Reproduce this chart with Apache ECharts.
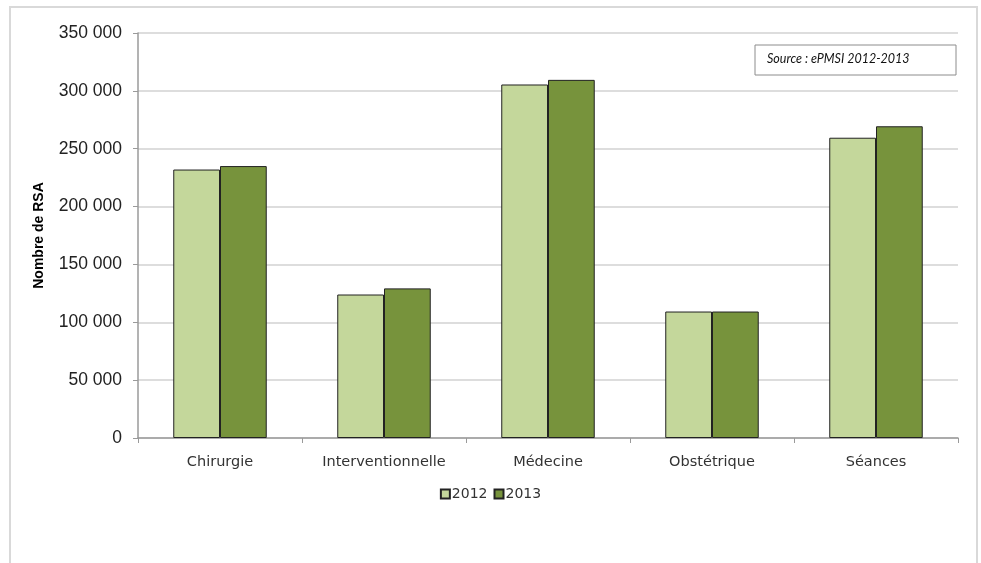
<!DOCTYPE html>
<html><head><meta charset="utf-8">
<script src="https://cdn.jsdelivr.net/npm/echarts@6/dist/echarts.min.js"></script>
<style>html,body{margin:0;padding:0;background:#fff}#c{width:981px;height:563px}</style>
</head><body><div id="c"></div>
<script>
const categories = ['Chirurgie', 'Interventionnelle', 'Médecine', 'Obstétrique', 'Séances'];
const values2012 = [232000, 124000, 305500, 109300, 259500];
const values2013 = [235000, 129300, 309500, 109300, 269400];
const seriesNames = ['2012', '2013'];
const yTicks = { min: 0, max: 350000, interval: 50000 };
const sourceText = 'Source : ePMSI 2012-2013';

const chart = echarts.init(document.getElementById('c'));
const fmt = v => String(v).replace(/\B(?=(\d{3})+(?!\d))/g, ' ');
chart.setOption({
  animation: false,
  backgroundColor: '#fff',
  grid: { left: 138, right: 23, top: 33, bottom: 125, containLabel: false },
  legend: {
    data: seriesNames, bottom: 57, left: 'center',
    itemWidth: 9, itemHeight: 9, itemGap: 6,
    icon: 'rect',
    textStyle: { fontFamily: '"DejaVu Sans", sans-serif', fontSize: 14, color: '#333', padding: [0, 0, 0, -3] }
  },
  xAxis: {
    type: 'category', data: categories,
    axisLine: { lineStyle: { color: '#9a9a9a', width: 1.5 } },
    axisTick: { show: true, length: 5, lineStyle: { color: '#9a9a9a' } },
    axisLabel: { fontFamily: '"DejaVu Sans", sans-serif', fontSize: 14.5, color: '#333', margin: 17 }
  },
  yAxis: {
    type: 'value', min: yTicks.min, max: yTicks.max, interval: yTicks.interval,
    name: 'Nombre de RSA', nameLocation: 'middle', nameGap: 92, nameRotate: 90,
    nameTextStyle: { fontFamily: 'Liberation Sans, Arial, sans-serif', fontWeight: 'bold', fontSize: 14, color: '#000' },
    axisLine: { show: true, lineStyle: { color: '#9a9a9a', width: 1.5 } },
    axisTick: { show: true, length: 5, lineStyle: { color: '#9a9a9a' } },
    splitLine: { lineStyle: { color: '#d2d2d2', width: 1.5 } },
    axisLabel: { formatter: fmt, fontFamily: 'Liberation Sans, Arial, sans-serif', fontSize: 17.5, color: '#222', margin: 16 }
  },
  series: [
    { name: seriesNames[0], type: 'bar', data: values2012, barGap: '0%', barCategoryGap: '43%',
      itemStyle: { color: '#c4d79b', borderColor: '#222', borderWidth: 1 } },
    { name: seriesNames[1], type: 'bar', data: values2013, barGap: '0%', barCategoryGap: '43%',
      itemStyle: { color: '#77933c', borderColor: '#222', borderWidth: 1 } }
  ],
  graphic: [
    { type: 'rect', shape: { x: 10, y: 7, width: 967, height: 580 }, style: { fill: 'none', stroke: '#d9d9d9', lineWidth: 2 }, silent: true },
    { type: 'rect', shape: { x: 755, y: 45, width: 201, height: 30 }, style: { fill: '#fff', stroke: '#8c8c8c', lineWidth: 1 }, z: 10 },
    { type: 'text', left: 767, top: 52, z: 11, style: { text: sourceText, font: 'italic 12.5px "Lato", "DejaVu Sans", sans-serif', fill: '#111' } }
  ]
});
</script></body></html>
